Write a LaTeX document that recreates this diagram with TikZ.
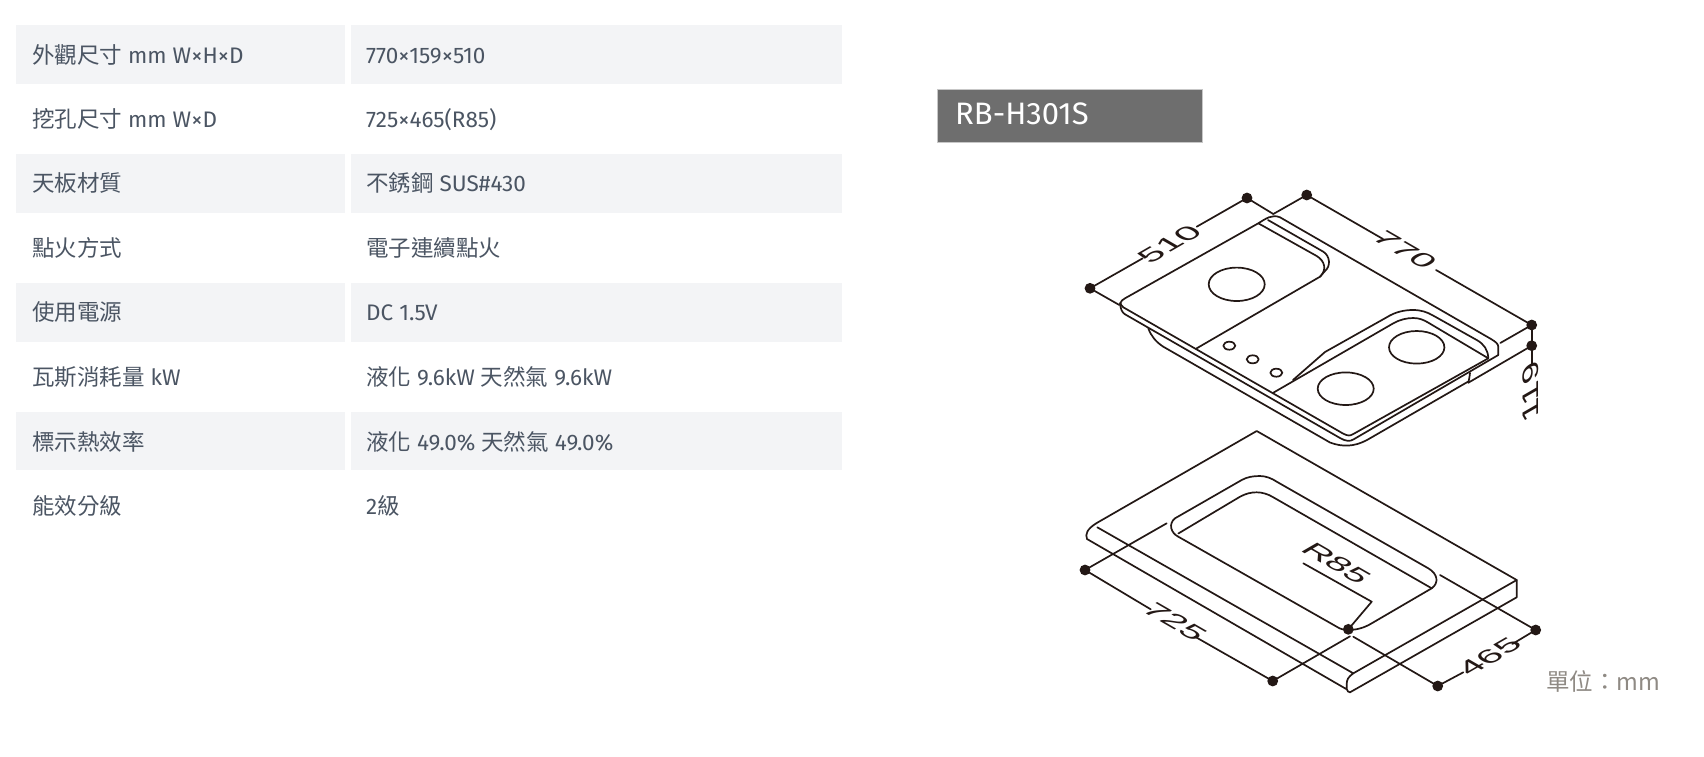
\documentclass[tikz,border=0pt]{standalone}
\usepackage{fontspec}
\setmainfont{Fira Sans}
\newfontfamily\cjkf{Noto Sans CJK TC}
\newfontfamily\dimf{Liberation Sans}
\definecolor{rowbg}{HTML}{F3F4F6}
\definecolor{tabtext}{HTML}{4B5563}
\definecolor{ink}{HTML}{231815}
\definecolor{headbg}{HTML}{6E6E6E}
\definecolor{unitc}{HTML}{8F8A84}
\newcommand{\C}[1]{{\cjkf #1}}
\tikzset{
  rowfill/.style={fill=rowbg,draw=none},
  cell/.style={anchor=base west,inner sep=0pt,text=tabtext,font=\fontsize{22.5}{27}\selectfont},
  hob/.style={draw=ink,line width=1.7pt,line join=round,line cap=round},
  dotnode/.style={circle,fill=ink,inner sep=0pt,minimum size=10.8pt},
  dimlabel/.style={transform shape,inner sep=0pt,text=ink,font=\dimf\fontsize{26}{30}\selectfont},
  isoA/.style={cm={1.25,.72,-.866,.5,(0,0)}},
  isoB/.style={cm={1.25,-.72,.866,.5,(0,0)}},
  isoC/.style={cm={0,1.4,-.866,-.5,(0,0)}}
}
\begin{document}
\begin{tikzpicture}[x=1pt,y=-1pt]
\useasboundingbox (0,0) rectangle (1704,756);
% table rows
\foreach \t/\b in {25/84,154/213,283/341.5,412/470}{
  \fill[rowfill] (16,\t) rectangle (345,\b);
  \fill[rowfill] (351,\t) rectangle (842,\b);
}
\node[cell] (a1) at (32,63.5) {\C{外觀尺寸} mm W×H×D};
\node[cell] (b1) at (366,63.5) {770×159×510};
\node[cell] (a2) at (32,127) {\C{挖孔尺寸} mm W×D};
\node[cell] (b2) at (366,127) {725×465(R85)};
\node[cell] (a3) at (32,191.5) {\C{天板材質}};
\node[cell] (b3) at (366,191.5) {\C{不銹鋼} SUS\#430};
\node[cell] (a4) at (32,256) {\C{點火方式}};
\node[cell] (b4) at (366,256) {\C{電子連續點火}};
\node[cell] (a5) at (32,320.5) {\C{使用電源}};
\node[cell] (b5) at (366,320.5) {DC 1.5V};
\node[cell] (a6) at (32,385.5) {\C{瓦斯消耗量} kW};
\node[cell] (b6) at (366,385.5) {\C{液化} 9.6kW \C{天然氣} 9.6kW};
\node[cell] (a7) at (32,450) {\C{標示熱效率}};
\node[cell] (b7) at (366,450) {\C{液化} 49.0\% \C{天然氣} 49.0\%};
\node[cell] (a8) at (32,514) {\C{能效分級}};
\node[cell] (b8) at (366,514) {2\C{級}};
% header
\node[draw=black!22,line width=1pt,fill=headbg,minimum width=265pt,minimum height=53pt,inner sep=0pt,anchor=north west] (head) at (937,89) {};
\node[anchor=base west,inner sep=0pt,text=white,font=\fontsize{31}{36}\selectfont] (headtxt) at (955,124.5) {RB-H301S};
% unit
\node[anchor=base west,inner sep=0pt,text=unitc,font=\cjkf\fontsize{23.5}{28}\selectfont] (unit) at (1546,690) {單位：mm};

% upper hob
\draw[hob] (1123.3,307.3) .. controls (1119,304) and (1120,301) .. (1125,298.3) -- (1258.3,223.3) .. controls (1266,218.5) and (1272,214) .. (1280,217.3) -- (1491,339) .. controls (1496,342) and (1498.3,344) .. (1498.3,347) -- (1498.3,355);
\draw[hob] (1123.3,307.3) -- (1343.3,433.7) .. controls (1348,436) and (1350,436) .. (1353.3,434) -- (1488.3,358.3);
\draw[hob] (1120,303) .. controls (1120.5,309) and (1122,312.5) .. (1125,314.3) -- (1340,438) .. controls (1346,441.5) and (1350,441.5) .. (1353.3,439.5) -- (1498.3,355);
\draw[hob] (1148.3,328.3) .. controls (1151,336) and (1156,342) .. (1163.3,346.7) -- (1330,442.5) .. controls (1342,447) and (1354,447) .. (1367,440) -- (1468.3,381.5);
\draw[hob] (1470,373) .. controls (1469.5,377) and (1469,380) .. (1468.3,382.7);
% left panel
\draw[hob] (1258.3,223.3) -- (1316.7,256) .. controls (1325,261) and (1327,270) .. (1320,276.7) -- (1196.7,348.3);
\draw[hob] (1268,220) -- (1323.3,251.7) .. controls (1330,256) and (1331,266) .. (1325,271) -- (1320,276.7);
% right panel
\draw[hob] (1273.3,392.7) -- (1393.3,323.3) .. controls (1400,319.5) and (1407,318) .. (1413.3,318) .. controls (1419,318) and (1424,320) .. (1428,322.5) -- (1488.3,358.3);
\draw[hob] (1293,380) -- (1325,352) -- (1386.7,317.3) .. controls (1396,311.5) and (1405,310) .. (1413,310) .. controls (1421,310) and (1427,312) .. (1433,315.5) -- (1476.7,340) .. controls (1484,344) and (1488,350) .. (1488.3,358.3);
% burners and knobs
\draw[hob] (1236.7,284.3) ellipse [x radius=28,y radius=16.7];
\draw[hob] (1416.7,347.3) ellipse [x radius=27.7,y radius=16.3];
\draw[hob] (1345.7,388.7) ellipse [x radius=28,y radius=16.3];
\draw[hob] (1229.3,345.7) ellipse [x radius=6,y radius=4];
\draw[hob] (1252.7,359.3) ellipse [x radius=6,y radius=4];
\draw[hob] (1276.3,372.7) ellipse [x radius=6,y radius=4];

% lower counter
\draw[hob] (1097.3,527.3) -- (1353.3,673.3) .. controls (1348,677) and (1346.7,680) .. (1346.7,684) -- (1346.7,689) .. controls (1347,691) and (1348.5,692.3) .. (1350,692.3) -- (1516.7,597.3) -- (1516.7,580) -- (1256.7,431) -- (1096.7,523) .. controls (1087,529) and (1085,534) .. (1087,539) -- (1346.7,689.3);
\draw[hob] (1353.3,673.3) -- (1516.7,580);
% cut-out
\draw[hob] (1178.3,533.5) -- (1240,496.7) .. controls (1246,493.5) and (1251,492.3) .. (1256.7,492.3) .. controls (1262,492.3) and (1268,494) .. (1273.3,497.3) -- (1431.7,588.3);
\draw[hob] (1178.3,536.7) .. controls (1171,533) and (1168,524) .. (1175,518.3) -- (1241.7,480) .. controls (1247,477) and (1253,476) .. (1260,476) .. controls (1266,476) and (1272,478.5) .. (1276.7,481.7) -- (1428.3,568.3) .. controls (1438,574) and (1439,583) .. (1431.7,588.3) -- (1371.7,623.3) .. controls (1364,628) and (1356,630) .. (1348.3,630) .. controls (1344,630) and (1340,629) .. (1336.7,626.7) -- (1178.3,536.7);

% dimension dots
\node[dotnode] (d510a) at (1090,288.3) {};
\node[dotnode] (d510b) at (1247,198) {};
\node[dotnode] (d770a) at (1306.7,195) {};
\node[dotnode] (d770b) at (1531.7,325) {};
\node[dotnode] (d119) at (1531.7,345.7) {};
\node[dotnode] (d725a) at (1085,570) {};
\node[dotnode] (d725b) at (1272.7,681) {};
\node[dotnode] (d465a) at (1437.7,686) {};
\node[dotnode] (d465b) at (1535.7,630) {};
\node[dotnode] (dr85) at (1348.3,629.3) {};

% free ends
\coordinate (e510a) at (1119.3,305);
\coordinate (e510b) at (1273.3,214);
\coordinate (g510a) at (1142.7,258.3);
\coordinate (g510b) at (1196.7,226.7);
\coordinate (g770a) at (1383,239);
\coordinate (g770b) at (1436,270);
\coordinate (e770b) at (1500.3,343);
\coordinate (e119) at (1468.3,382.7);
\coordinate (g119) at (1531.7,365);
\coordinate (e725a) at (1166.7,523.3);
\coordinate (e725b) at (1350,636.3);
\coordinate (g725a) at (1150.7,609.3);
\coordinate (g725b) at (1195,636.7);
\coordinate (e465a) at (1353.3,636.7);
\coordinate (e465b) at (1440,575);
\coordinate (g465a) at (1463.3,672.3);
\coordinate (g465b) at (1512.3,644);
\coordinate (r85a) at (1303.3,563.3);
\coordinate (r85b) at (1371.7,601.7);

% dimension lines
\draw[hob] (d510a.center) -- (g510a);
\draw[hob] (g510b) -- (d510b.center) -- (e510b);
\draw[hob] (d510a.center) -- (e510a);
\draw[hob] (d770a.center) -- (e510b);
\draw[hob] (d770a.center) -- (g770a);
\draw[hob] (g770b) -- (d770b.center) -- (e770b);
\draw[hob] (d770b.center) -- (d119.center) -- (g119);
\draw[hob] (d119.center) -- (e119);
\draw[hob] (d725a.center) -- (e725a);
\draw[hob] (d725a.center) -- (g725a);
\draw[hob] (g725b) -- (d725b.center) -- (e725b);
\draw[hob] (d465a.center) -- (e465a);
\draw[hob] (d465a.center) -- (g465a);
\draw[hob] (g465b) -- (d465b.center) -- (e465b);
\draw[hob] (r85a) -- (r85b) -- (dr85.center);

% dimension labels
\begin{scope}[shift={(1170,244)},isoA]\node[dimlabel] (l510) at (0,0) {510};\end{scope}
\begin{scope}[shift={(1405,250)},isoB]\node[dimlabel] (l770) at (0,0) {770};\end{scope}
\begin{scope}[shift={(1531,392)},isoC]\node[dimlabel] (l119) at (0,0) {119};\end{scope}
\begin{scope}[shift={(1175,621.7)},isoB]\node[dimlabel] (l725) at (0,0) {725};\end{scope}
\begin{scope}[shift={(1490,656.7)},isoA]\node[dimlabel] (l465) at (0,0) {465};\end{scope}
\begin{scope}[shift={(1336.7,563)},isoB]\node[dimlabel] (lr85) at (0,0) {R85};\end{scope}
\end{tikzpicture}
\end{document}
